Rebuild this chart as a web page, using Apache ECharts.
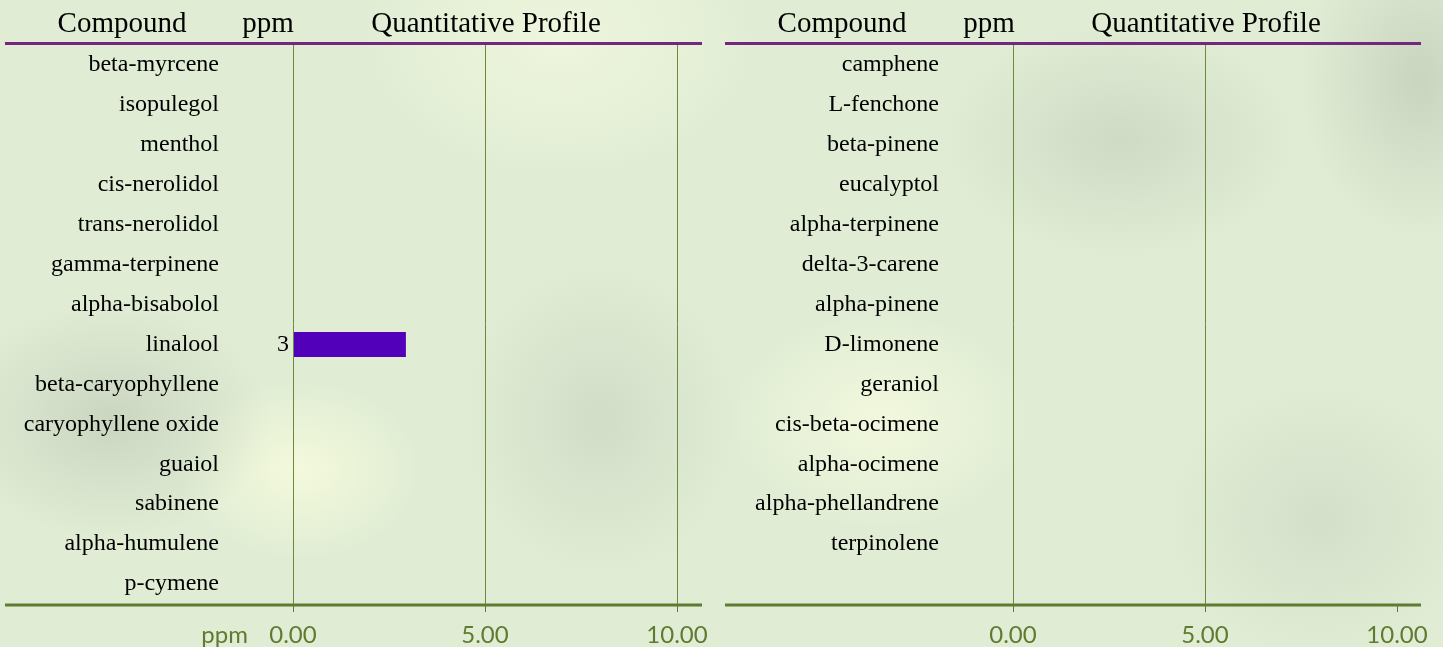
<!DOCTYPE html>
<html>
<head>
    <meta charset="utf-8">
    <title>Quantitative Profile</title>
    <script src="https://cdn.jsdelivr.net/npm/echarts@6/dist/echarts.min.js"></script>
    <style>
        html, body { margin: 0; padding: 0; }
        body {
            width: 1443px; height: 647px; overflow: hidden;
            background:
                radial-gradient(ellipse 160px 120px at 110px 420px, rgba(196,206,186,0.75), rgba(196,206,186,0)),
                radial-gradient(ellipse 140px 160px at 600px 420px, rgba(200,210,190,0.6), rgba(200,210,190,0)),
                radial-gradient(ellipse 120px 90px at 300px 470px, rgba(246,250,220,0.9), rgba(246,250,220,0)),
                radial-gradient(ellipse 180px 120px at 1120px 140px, rgba(200,210,190,0.7), rgba(200,210,190,0)),
                radial-gradient(ellipse 120px 160px at 1420px 80px, rgba(196,206,186,0.8), rgba(196,206,186,0)),
                radial-gradient(ellipse 150px 110px at 880px 420px, rgba(244,249,222,0.9), rgba(244,249,222,0)),
                radial-gradient(ellipse 160px 140px at 1320px 520px, rgba(204,214,194,0.6), rgba(204,214,194,0)),
                radial-gradient(ellipse 200px 140px at 560px 40px, rgba(240,247,222,0.9), rgba(240,247,222,0)),
                #e0edd4;
        }
        #main { width: 1443px; height: 647px; }
    </style>
</head>
<body>
<div id="main"></div>

<script type="text/javascript">
    // 数据
    var leftCompounds = ['beta-myrcene', 'isopulegol', 'menthol', 'cis-nerolidol', 'trans-nerolidol',
        'gamma-terpinene', 'alpha-bisabolol', 'linalool', 'beta-caryophyllene', 'caryophyllene oxide',
        'guaiol', 'sabinene', 'alpha-humulene', 'p-cymene'];
    var leftValues = [null, null, null, null, null, null, null, 2.94, null, null, null, null, null, null];

    var rightCompounds = ['camphene', 'L-fenchone', 'beta-pinene', 'eucalyptol', 'alpha-terpinene',
        'delta-3-carene', 'alpha-pinene', 'D-limonene', 'geraniol', 'cis-beta-ocimene',
        'alpha-ocimene', 'alpha-phellandrene', 'terpinolene', ''];
    var rightValues = [null, null, null, null, null, null, null, null, null, null, null, null, null, null];

    var leftGridValues = [0, 5, 10];
    var rightGridValues = [0, 5];

    var olive = '#5f7b30';
    var purple = '#74277f';
    var serif = '"Liberation Serif", "Times New Roman", serif';
    var sans = 'Lato, "Open Sans", sans-serif';

    var myChart = echarts.init(document.getElementById('main'));

    function xAxisOpt(idx) {
        return {
            type: 'value', gridIndex: idx, min: 0, max: 10, interval: 5,
            axisLine: { show: false },
            axisTick: { show: true, length: 8, lineStyle: { color: olive, width: 1 } },
            splitLine: { show: false },
            axisLabel: {
                margin: 19, color: olive, fontFamily: sans, fontSize: 24,
                formatter: function (v) { return v.toFixed(2); }
            }
        };
    }

    function yAxisOpt(idx, cats) {
        return {
            type: 'category', gridIndex: idx, inverse: true, data: cats,
            axisLine: { show: false }, axisTick: { show: false }, splitLine: { show: false },
            axisLabel: { margin: 74, color: '#000', fontFamily: serif, fontSize: 24 }
        };
    }

    function barSeries(idx, values, gridVals) {
        return {
            type: 'bar', xAxisIndex: idx, yAxisIndex: idx, data: values,
            barWidth: 25, silent: true,
            itemStyle: { color: '#5300bb' },
            label: {
                show: true, position: 'left', distance: 4, color: '#000',
                fontFamily: serif, fontSize: 24,
                formatter: function (p) { return Math.round(p.value); }
            },
            markLine: {
                silent: true, symbol: 'none', label: { show: false },
                lineStyle: { color: '#6b8a3c', width: 1, type: 'solid' },
                data: gridVals.map(function (v) { return { xAxis: v }; })
            }
        };
    }

    function header(x, text) {
        return { type: 'text', x: x, y: 24, style: { text: text, fill: '#000', font: '29px ' + serif, align: 'center', verticalAlign: 'middle' } };
    }

    myChart.setOption({
        animation: false,
        grid: [
            { left: 293, width: 384, top: 45, height: 559 },
            { left: 1013, width: 384, top: 45, height: 559 }
        ],
        xAxis: [xAxisOpt(0), xAxisOpt(1)],
        yAxis: [yAxisOpt(0, leftCompounds), yAxisOpt(1, rightCompounds)],
        series: [barSeries(0, leftValues, leftGridValues), barSeries(1, rightValues, rightGridValues)],
        graphic: [
            header(122, 'Compound'), header(268, 'ppm'), header(486, 'Quantitative Profile'),
            header(842, 'Compound'), header(989, 'ppm'), header(1206, 'Quantitative Profile'),
            { type: 'line', shape: { x1: 5, y1: 43.5, x2: 702, y2: 43.5 }, style: { stroke: purple, lineWidth: 3 } },
            { type: 'line', shape: { x1: 725, y1: 43.5, x2: 1421, y2: 43.5 }, style: { stroke: purple, lineWidth: 3 } },
            { type: 'line', shape: { x1: 5, y1: 605, x2: 702, y2: 605 }, style: { stroke: olive, lineWidth: 3 } },
            { type: 'line', shape: { x1: 725, y1: 605, x2: 1421, y2: 605 }, style: { stroke: olive, lineWidth: 3 } },
            { type: 'text', x: 248, y: 635, style: { text: 'ppm', fill: olive, font: '24px ' + sans, align: 'right', verticalAlign: 'middle' } }
        ]
    });
</script>
</body>
</html>
